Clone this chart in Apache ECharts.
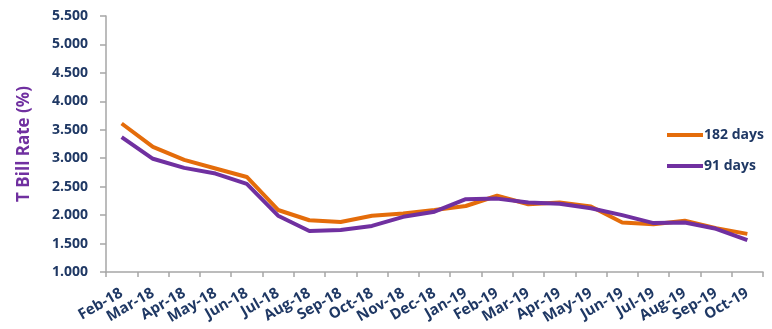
<!DOCTYPE html>
<html><head><meta charset="utf-8">
<script src="https://cdn.jsdelivr.net/npm/echarts@6/dist/echarts.min.js"></script>
<style>html,body{margin:0;padding:0;background:#fff}#c{width:772px;height:329px}</style>
</head><body><div id="c"></div>
<script>
const categories = ["Feb-18","Mar-18","Apr-18","May-18","Jun-18","Jul-18","Aug-18","Sep-18","Oct-18","Nov-18","Dec-18","Jan-19","Feb-19","Mar-19","Apr-19","May-19","Jun-19","Jul-19","Aug-19","Sep-19","Oct-19"];
const days182 = [3.61,3.20,2.97,2.82,2.67,2.09,1.91,1.88,1.99,2.03,2.09,2.16,2.34,2.19,2.22,2.15,1.87,1.84,1.90,1.77,1.67];
const days91  = [3.37,2.99,2.83,2.73,2.55,1.99,1.72,1.74,1.81,1.97,2.06,2.28,2.29,2.22,2.20,2.12,2.00,1.86,1.87,1.76,1.56];
const yTicks = {min:1, max:5.5, interval:0.5};
const navy = '#1F3864';
const chart = echarts.init(document.getElementById('c'), null, {renderer:'canvas'});
chart.setOption({
  animation:false,
  grid:{left:106, right:9, top:16, bottom:57},
  legend:{
    orient:'vertical', left:662, top:123, itemGap:17, itemWidth:36, itemHeight:14,
    icon:'path://M0,5 L36,5 L36,9 L0,9 Z',
    textStyle:{color:navy, fontWeight:'bold', fontSize:14, fontFamily:'Open Sans', padding:[0,0,0,-4]},
    data:['182 days','91 days']
  },
  xAxis:{
    type:'category', data:categories, boundaryGap:true,
    axisLine:{lineStyle:{color:'#A6A6A6', width:1.5}},
    axisTick:{show:true, length:5, lineStyle:{color:'#A6A6A6', width:1.5}},
    axisLabel:{rotate:30, interval:0, color:navy, fontWeight:'bold', fontSize:15, fontFamily:'Open Sans', margin:20}
  },
  yAxis:{
    type:'value', min:yTicks.min, max:yTicks.max, interval:yTicks.interval,
    name:'T Bill Rate (%)', nameLocation:'middle', nameGap:73, nameRotate:90,
    nameTextStyle:{color:'#7030A0', fontWeight:'bold', fontSize:17, fontFamily:'Open Sans'},
    splitLine:{show:false},
    axisLine:{show:true, lineStyle:{color:'#A6A6A6', width:1.5}},
    axisTick:{show:true, length:6, lineStyle:{color:'#A6A6A6', width:1.5}},
    axisLabel:{color:navy, fontWeight:'bold', fontSize:14, fontFamily:'Open Sans', margin:18,
      formatter:v=>v.toFixed(3)}
  },
  series:[
    {name:'182 days', type:'line', data:days182, symbol:'none', color:'#E46C0A', lineStyle:{width:4, color:'#E46C0A'}},
    {name:'91 days', type:'line', data:days91, symbol:'none', color:'#7030A0', lineStyle:{width:4, color:'#7030A0'}}
  ]
});
</script></body></html>
